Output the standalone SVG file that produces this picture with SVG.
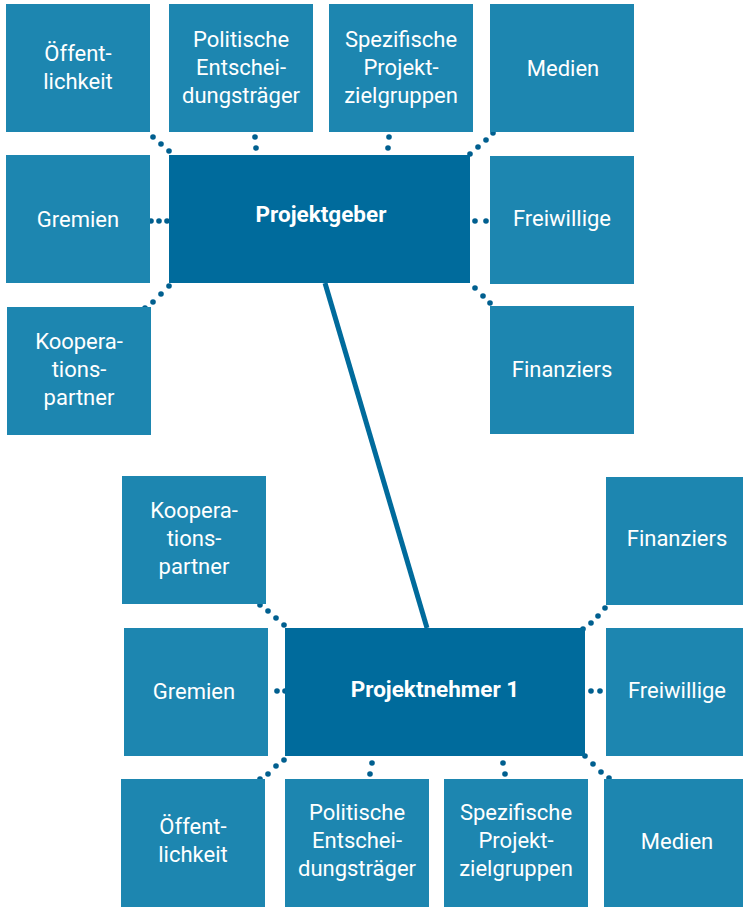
<svg xmlns="http://www.w3.org/2000/svg" width="743" height="907" viewBox="0 0 743 907">
<style>
.box{fill:#1D86B0}
.main{fill:#006B9C}
.t{font-family:Roboto,"Liberation Sans",sans-serif;font-size:22px;fill:#FFFFFF;text-anchor:middle}
.b{font-weight:bold;font-size:22.5px}
.dot{fill:#005F8F}
.link{stroke:#006B9C;stroke-width:5;fill:none}
</style>
<rect width="743" height="907" fill="#FFFFFF"/>
<g id="connectors">
<line class="link" x1="325" y1="283" x2="427" y2="628"/>
<g class="dots">
<circle class="dot" cx="153" cy="137" r="2.8"/><circle class="dot" cx="161" cy="144" r="2.8"/><circle class="dot" cx="169" cy="151" r="2.8"/>
<circle class="dot" cx="255" cy="137" r="2.8"/><circle class="dot" cx="256" cy="148" r="2.8"/>
<circle class="dot" cx="389" cy="137" r="2.8"/><circle class="dot" cx="388" cy="148" r="2.8"/>
<circle class="dot" cx="493" cy="133" r="2.8"/><circle class="dot" cx="486" cy="140" r="2.8"/><circle class="dot" cx="478" cy="147" r="2.8"/><circle class="dot" cx="470" cy="154" r="2.8"/>
<circle class="dot" cx="151" cy="221" r="2.8"/><circle class="dot" cx="159" cy="221" r="2.8"/><circle class="dot" cx="167" cy="221" r="2.8"/>
<circle class="dot" cx="475" cy="221" r="2.8"/><circle class="dot" cx="486" cy="221" r="2.8"/>
<circle class="dot" cx="169" cy="286" r="2.8"/><circle class="dot" cx="161" cy="294" r="2.8"/><circle class="dot" cx="153" cy="302" r="2.8"/><circle class="dot" cx="145" cy="308" r="2.8"/>
<circle class="dot" cx="475" cy="288" r="2.8"/><circle class="dot" cx="483" cy="296" r="2.8"/><circle class="dot" cx="490" cy="303" r="2.8"/>
<circle class="dot" cx="260" cy="605" r="2.8"/><circle class="dot" cx="268" cy="611" r="2.8"/><circle class="dot" cx="276" cy="618" r="2.8"/><circle class="dot" cx="284" cy="625" r="2.8"/>
<circle class="dot" cx="605" cy="608" r="2.8"/><circle class="dot" cx="598" cy="616" r="2.8"/><circle class="dot" cx="591" cy="623" r="2.8"/><circle class="dot" cx="583" cy="629" r="2.8"/>
<circle class="dot" cx="277" cy="691" r="2.8"/><circle class="dot" cx="285" cy="691" r="2.8"/>
<circle class="dot" cx="591" cy="691" r="2.8"/><circle class="dot" cx="600" cy="691" r="2.8"/>
<circle class="dot" cx="284" cy="760" r="2.8"/><circle class="dot" cx="276" cy="766" r="2.8"/><circle class="dot" cx="268" cy="774" r="2.8"/><circle class="dot" cx="260" cy="779" r="2.8"/>
<circle class="dot" cx="372" cy="763" r="2.8"/><circle class="dot" cx="370" cy="774" r="2.8"/>
<circle class="dot" cx="503" cy="763" r="2.8"/><circle class="dot" cx="505" cy="774" r="2.8"/>
<circle class="dot" cx="585" cy="756" r="2.8"/><circle class="dot" cx="593" cy="764" r="2.8"/><circle class="dot" cx="601" cy="772" r="2.8"/><circle class="dot" cx="609" cy="778" r="2.8"/>
</g>
</g>
<g id="projektgeber"><rect class="main" x="169" y="155" width="301" height="128"/><text class="t b" x="321" y="222">Projektgeber</text></g>
<g id="pg-oeffentlichkeit"><rect class="box" x="6" y="4" width="144" height="128"/><text class="t" x="78" y="61">Öffent-</text><text class="t" x="78" y="89">lichkeit</text></g>
<g id="pg-politische"><rect class="box" x="169" y="4" width="144" height="128"/><text class="t" x="241" y="47">Politische</text><text class="t" x="241" y="75">Entschei-</text><text class="t" x="241" y="103">dungsträger</text></g>
<g id="pg-spezifische"><rect class="box" x="329" y="4" width="144" height="128"/><text class="t" x="401" y="47">Spezifische</text><text class="t" x="401" y="75">Projekt-</text><text class="t" x="401" y="103">zielgruppen</text></g>
<g id="pg-medien"><rect class="box" x="490" y="4" width="144" height="128"/><text class="t" x="563" y="76">Medien</text></g>
<g id="pg-gremien"><rect class="box" x="6" y="155" width="144" height="128"/><text class="t" x="78" y="227">Gremien</text></g>
<g id="pg-freiwillige"><rect class="box" x="490" y="156" width="144" height="128"/><text class="t" x="562" y="226">Freiwillige</text></g>
<g id="pg-kooperation"><rect class="box" x="7" y="307" width="144" height="128"/><text class="t" x="79" y="349">Koopera-</text><text class="t" x="79" y="377">tions-</text><text class="t" x="79" y="405">partner</text></g>
<g id="pg-finanziers"><rect class="box" x="490" y="306" width="144" height="128"/><text class="t" x="562" y="377">Finanziers</text></g>
<g id="projektnehmer"><rect class="main" x="285" y="628" width="300" height="128"/><text class="t b" x="435" y="697">Projektnehmer 1</text></g>
<g id="pn-kooperation"><rect class="box" x="122" y="476" width="144" height="128"/><text class="t" x="194" y="518">Koopera-</text><text class="t" x="194" y="546">tions-</text><text class="t" x="194" y="574">partner</text></g>
<g id="pn-finanziers"><rect class="box" x="606" y="477" width="144" height="128"/><text class="t" x="677" y="546">Finanziers</text></g>
<g id="pn-gremien"><rect class="box" x="124" y="628" width="144" height="128"/><text class="t" x="194" y="699">Gremien</text></g>
<g id="pn-freiwillige"><rect class="box" x="606" y="628" width="144" height="128"/><text class="t" x="677" y="698">Freiwillige</text></g>
<g id="pn-oeffentlichkeit"><rect class="box" x="121" y="779" width="144" height="128"/><text class="t" x="193" y="834">Öffent-</text><text class="t" x="193" y="862">lichkeit</text></g>
<g id="pn-politische"><rect class="box" x="285" y="779" width="144" height="128"/><text class="t" x="357" y="820">Politische</text><text class="t" x="357" y="848">Entschei-</text><text class="t" x="357" y="876">dungsträger</text></g>
<g id="pn-spezifische"><rect class="box" x="444" y="779" width="144" height="128"/><text class="t" x="516" y="820">Spezifische</text><text class="t" x="516" y="848">Projekt-</text><text class="t" x="516" y="876">zielgruppen</text></g>
<g id="pn-medien"><rect class="box" x="604" y="779" width="144" height="128"/><text class="t" x="677" y="849">Medien</text></g>
</svg>
